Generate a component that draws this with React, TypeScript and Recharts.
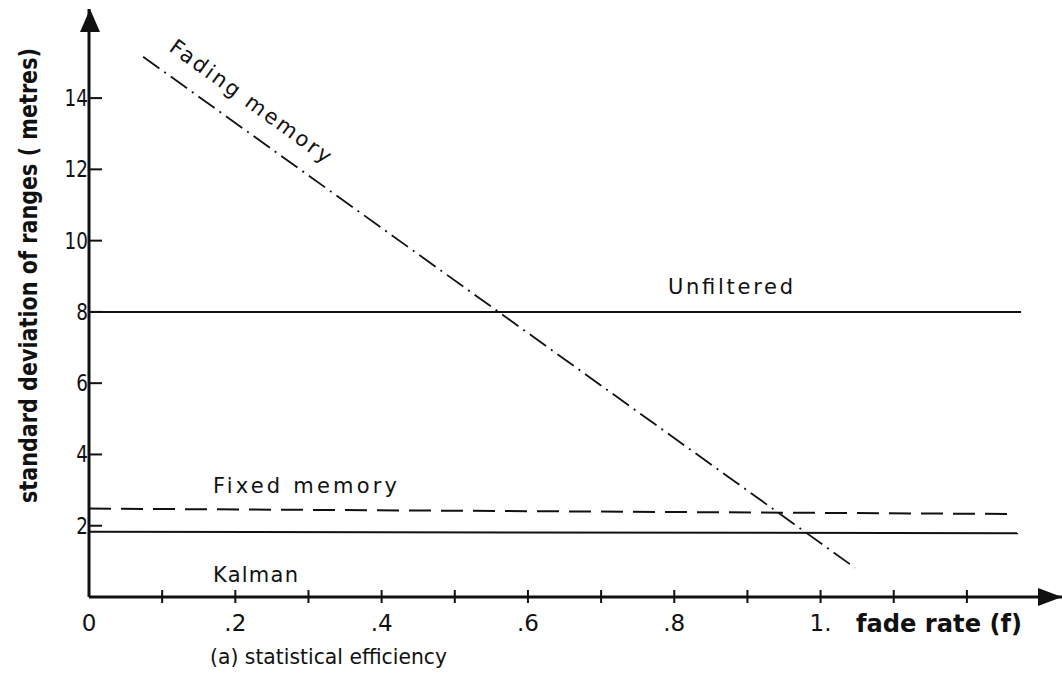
import React from "react";
import { LineChart, Line, XAxis, YAxis, ReferenceDot, Customized } from "recharts";

// ---- data ----
const unfiltered = [
  { x: 0, y: 8 },
  { x: 1.274, y: 8 },
];
const fixedMemory = [
  { x: 0, y: 2.48 },
  { x: 1.26, y: 2.33 },
];
const kalman = [
  { x: 0, y: 1.83 },
  { x: 1.27, y: 1.79 },
];
const fadingMemory = [
  { x: 0.074, y: 15.16 },
  { x: 1.047, y: 0.82 },
];

const xTicks = [0, 0.1, 0.2, 0.3, 0.4, 0.5, 0.6, 0.7, 0.8, 0.9, 1.0, 1.1, 1.2];
const xTickLabels = ["0", "", ".2", "", ".4", "", ".6", "", ".8", "", "1.", "", ""];
const yTicks = [2, 4, 6, 8, 10, 12, 14];
const yTickLabels = ["2", "4", "6", "8", "10", "12", "14"];

const X_MAX = 1.33;
const Y_MAX = 16.5;

const INK = "#111";
const SANS = "'DejaVu Sans', 'Open Sans', sans-serif";
const NARROW = "'Liberation Sans Narrow', 'DejaVu Sans Condensed', 'DejaVu Sans', sans-serif";

const XTick = (props: any) => {
  const { x, y, payload } = props;
  const v = payload.value as number;
  const i = xTicks.findIndex((t) => Math.abs(t - v) < 1e-6);
  const label = i >= 0 ? xTickLabels[i] : "";
  return (
    <g>
      {v > 0 && <line x1={x} x2={x} y1={y - 7} y2={y + 6} stroke={INK} strokeWidth={2} />}
      {label && (
        <text x={x} y={y + 34} textAnchor="middle" fontFamily={SANS} fontSize={23} fill={INK}>
          {label}
        </text>
      )}
    </g>
  );
};

const YTick = (props: any) => {
  const { x, y, payload } = props;
  const v = payload.value as number;
  const i = yTicks.indexOf(v);
  const label = i >= 0 ? yTickLabels[i] : "";
  return (
    <g>
      <line x1={x} x2={x + 13} y1={y} y2={y} stroke={INK} strokeWidth={2} />
      <text
        x={x - 1}
        y={y + 8}
        textAnchor="end"
        fontFamily={SANS}
        fontSize={23}
        fill={INK}
        transform={`translate(${x - 1} 0) scale(0.8 1) translate(${-(x - 1)} 0)`}
      >
        {label}
      </text>
    </g>
  );
};

const ArrowRight = (p: any) => (
  <path d={`M ${p.cx} ${p.cy} L ${p.cx - 24} ${p.cy - 9} L ${p.cx - 24} ${p.cy + 9} Z`} fill={INK} />
);
const ArrowUp = (p: any) => (
  <path d={`M ${p.cx + 1} ${p.cy} L ${p.cx - 9} ${p.cy + 23} L ${p.cx + 11} ${p.cy + 23} Z`} fill={INK} />
);

const Annotations = () => (
  <g fill={INK}>
    <text x={668} y={294} fontFamily={SANS} fontSize={21} textLength={125} lengthAdjust="spacing">
      Unfiltered
    </text>
    <text x={213} y={493} fontFamily={SANS} fontSize={21} textLength={184} lengthAdjust="spacing">
      Fixed  memory
    </text>
    <text x={213} y={582} fontFamily={SANS} fontSize={21} textLength={85} lengthAdjust="spacing">
      Kalman
    </text>
    <text
      x={0}
      y={0}
      transform="translate(168,50) rotate(36)"
      fontFamily={SANS}
      fontSize={21}
      textLength={194}
      lengthAdjust="spacing"
    >
      Fading  memory
    </text>
    <text
      x={856}
      y={632}
      fontFamily={NARROW}
      fontWeight="bold"
      fontSize={24}
      textLength={166}
      lengthAdjust="spacingAndGlyphs"
    >
      fade rate  (f)
    </text>
    <text x={210} y={664} fontFamily={SANS} fontSize={22} textLength={237} lengthAdjust="spacingAndGlyphs">
      (a) statistical efficiency
    </text>
    <text
      x={0}
      y={0}
      transform="translate(37,503) rotate(-90)"
      fontFamily={NARROW}
      fontWeight="bold"
      fontSize={24}
      textLength={455}
      lengthAdjust="spacingAndGlyphs"
    >
      standard deviation of ranges ( metres)
    </text>
  </g>
);

export default function App() {
  return (
    <div style={{ position: "absolute", left: 0, top: 0, background: "#fff" }}>
      <LineChart width={1062} height={677} margin={{ top: 9, right: 0, left: 0, bottom: 0 }}>
        <XAxis
          type="number"
          dataKey="x"
          domain={[0, X_MAX]}
          ticks={xTicks}
          allowDataOverflow
          height={80}
          tickSize={0}
          tickMargin={0}
          tickLine={false}
          axisLine={{ stroke: INK, strokeWidth: 3 }}
          tick={<XTick />}
          interval={0}
        />
        <YAxis
          type="number"
          dataKey="y"
          domain={[0, Y_MAX]}
          ticks={yTicks}
          allowDataOverflow
          width={89}
          tickSize={0}
          tickMargin={0}
          tickLine={false}
          axisLine={{ stroke: INK, strokeWidth: 3 }}
          tick={<YTick />}
          interval={0}
        />
        <Line data={unfiltered} dataKey="y" stroke={INK} strokeWidth={2} dot={false} isAnimationActive={false} />
        <Line
          data={fixedMemory}
          dataKey="y"
          stroke={INK}
          strokeWidth={2}
          strokeDasharray="22 10"
          dot={false}
          isAnimationActive={false}
        />
        <Line data={kalman} dataKey="y" stroke={INK} strokeWidth={2} dot={false} isAnimationActive={false} />
        <Line
          data={fadingMemory}
          dataKey="y"
          stroke={INK}
          strokeWidth={1.8}
          strokeDasharray="20 6 2 6"
          dot={false}
          isAnimationActive={false}
        />
        <ReferenceDot x={X_MAX} y={0} r={0} ifOverflow="visible" shape={<ArrowRight />} />
        <ReferenceDot x={0} y={Y_MAX} r={0} ifOverflow="visible" shape={<ArrowUp />} />
        <Customized component={<Annotations />} />
      </LineChart>
    </div>
  );
}
